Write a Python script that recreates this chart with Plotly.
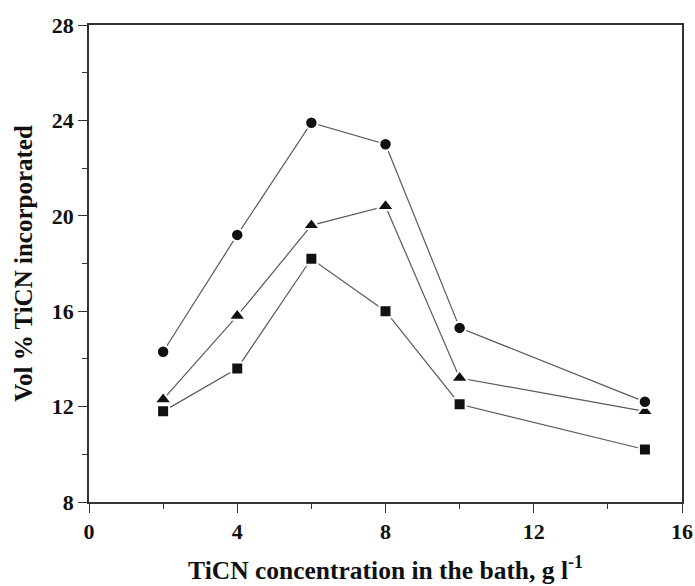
import plotly.graph_objects as go

conc = [2, 4, 6, 8, 10, 15]
circles = [14.3, 19.2, 23.9, 23.0, 15.3, 12.2]
triangles = [12.3, 15.8, 19.6, 20.4, 13.2, 11.8]
squares = [11.8, 13.6, 18.2, 16.0, 12.1, 10.2]

x_ticks = [0, 4, 8, 12, 16]
y_ticks = [8, 12, 16, 20, 24, 28]

FONT = "Liberation Serif"
fig = go.Figure()
for ys, sym, size in [(squares, "square", 12), (triangles, "triangle-up", 15), (circles, "circle", 12.5)]:
    fig.add_trace(go.Scatter(
        x=conc, y=ys, mode="lines+markers",
        line=dict(color="#5a5a5a", width=1.2),
        marker=dict(symbol=sym, size=size, color="#111111", line=dict(width=2, color="white")),
        showlegend=False,
    ))

axis_common = dict(
    showline=True, linecolor="#333333", linewidth=1.5, mirror=True,
    ticks="outside", ticklen=9, tickwidth=1.3, tickcolor="#333333",
    showgrid=False, zeroline=False, automargin=False,
    tickfont=dict(family=FONT, size=22, color="#111111", weight="bold"),
)

fig.update_xaxes(
    range=[0, 16], tickvals=x_ticks, ticktext=[str(v) for v in x_ticks],
    minor=dict(ticks="outside", ticklen=5, tickwidth=1.1, tickcolor="#333333", dtick=2, tick0=0),
    title=dict(text="TiCN concentration in the bath, g l<sup>-1</sup>", standoff=18,
               font=dict(family=FONT, size=25.5, color="#111111", weight="bold")),
    **axis_common,
)
fig.update_yaxes(
    range=[8, 28], tickvals=y_ticks, ticktext=[str(v) for v in y_ticks],
    minor=dict(ticks="outside", ticklen=5, tickwidth=1.1, tickcolor="#333333", dtick=2, tick0=8),
    title=dict(text="Vol % TiCN incorporated", standoff=12,
               font=dict(family=FONT, size=25, color="#111111", weight="bold")),
    **axis_common,
)

fig.update_layout(
    width=695, height=586,
    margin=dict(l=89, r=13, t=25, b=84),
    plot_bgcolor="white", paper_bgcolor="white",
)

fig.write_html("out.html")
